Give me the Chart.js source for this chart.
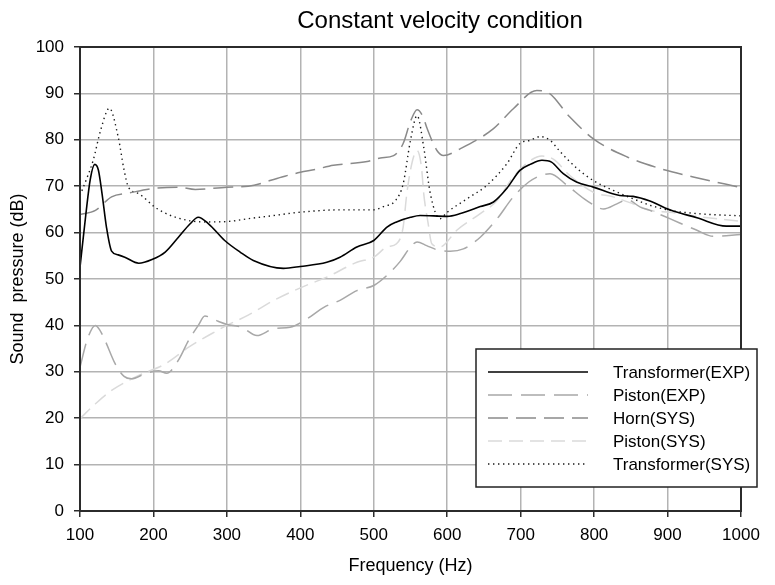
<!DOCTYPE html>
<html>
<head>
<meta charset="utf-8">
<script src="https://cdn.jsdelivr.net/npm/chart.js@4/dist/chart.umd.min.js"></script>
<style>
  html, body { margin: 0; padding: 0; background: #ffffff; }
  #wrap { width: 775px; height: 585px; }
</style>
</head>
<body>
<div id="wrap"><canvas id="c" width="775" height="585"></canvas></div>
<script>
// Frequency response data (Hz, dB)
const transformerExpHz = [100,108,114,120,125,130,136,143,152,161,180,198,216,234,250,261,275,297,318,336,377,400,436,454,477,500,518,531,550,563,600,618,645,663,681,699,713,729,742,758,776,799,835,853,876,903,940,980,1000];
const transformerExpDb = [52.5,64,71.5,74.7,73.5,68.4,61.2,56,55.2,54.7,53.4,54.2,55.8,59,61.9,63.3,61.9,58.3,55.8,54,52.3,52.7,53.6,54.7,56.9,58.3,61.2,62.3,63.3,63.7,63.5,64.1,65.6,66.6,69.5,73.4,74.7,75.6,75.2,72.7,70.9,69.8,68,67.8,66.8,64.9,63.2,61.4,61.4];

const pistonExpHz = [100,110,121,127,134,148,160,170,189,207,218,234,248,261,270,288,300,320,341,364,386,409,432,454,477,500,518,536,550,559,572,586,604,622,645,668,690,711,727,740,763,790,813,831,845,863,876,903,940,962,1000];
const pistonExpDb = [31,37,40,39,36.8,31.7,29,28.5,29.6,30.2,29.7,32.5,36.8,40,42,40.9,40.2,39.6,37.8,39.3,39.6,41.4,43.9,45.4,47.5,48.6,50.8,53.8,56.9,58,57.2,56.3,56,56.5,59,63,67.7,70.9,72.3,72.7,70.2,66.9,65.1,66.2,67.1,65.5,64.8,63,60.5,59.2,59.6];

const hornSysHz = [100,121,143,166,199,234,257,300,329,375,400,420,445,491,509,527,540,550,559,567,572,586,595,618,663,690,722,736,767,799,845,890,935,1000];
const hornSysDb = [63.9,64.8,67.7,68.5,69.5,69.8,69.3,69.8,70,72,73,73.6,74.5,75.3,76.1,76.6,79.2,84,86.5,85,82.7,77.7,76.6,78.1,82.4,86.7,90.6,90.3,84.9,80.2,76.3,73.8,72,69.7];

const pistonSysHz = [100,121,143,180,216,248,279,300,329,364,400,436,477,500,518,531,540,545,552,559,565,568,574,579,590,613,645,668,690,713,729,745,767,799,826,853,876,903,940,1000];
const pistonSysDb = [19.9,23.1,26,29.2,31.7,35.3,38.2,40,42.2,45.4,48.1,50.4,53.6,54.7,56.9,57.6,61.2,68.4,75,77.7,74,68.4,62,57.6,56.9,60.5,64.1,66.9,72,75.5,76.5,75.8,72.3,68.7,67.7,66.2,64.8,64.4,63.5,62.4];

const transformerSysHz = [100,110,118,128,140,152,160,166,180,202,220,248,270,302,329,360,400,454,500,513,530,540,550,559,568,577,590,600,627,654,681,699,713,727,740,754,777,799,826,853,876,903,940,1000];
const transformerSysDb = [68,72,75.6,82,86.8,80.6,73.5,69.8,68.4,65.5,63.9,62.6,62.3,62.4,63,63.6,64.4,64.9,64.9,65.6,67,70.5,79.9,85.2,78.4,68.4,63,64.4,67.3,70.2,74.8,79.2,79.9,80.7,79.9,77.4,73.8,71.2,69.1,67.3,65.9,64.8,64.1,63.6];

const xTicks = [100,200,300,400,500,600,700,800,900,1000];
const yTicks = [0,10,20,30,40,50,60,70,80,90,100];

const chartTitle = 'Constant velocity condition';
const FONT = '"Liberation Sans", Arial, Helvetica, sans-serif';

function pts(xs, ys) { return xs.map((x, i) => ({ x: x, y: ys[i] })); }

const series = [
  { label: 'Transformer(EXP)', data: pts(transformerExpHz, transformerExpDb), borderColor: '#000000', borderWidth: 1.6, borderDash: [] },
  { label: 'Piston(EXP)', data: pts(pistonExpHz, pistonExpDb), borderColor: '#a8a8a8', borderWidth: 1.5, borderDash: [24, 9] },
  { label: 'Horn(SYS)', data: pts(hornSysHz, hornSysDb), borderColor: '#8a8a8a', borderWidth: 1.5, borderDash: [20, 8] },
  { label: 'Piston(SYS)', data: pts(pistonSysHz, pistonSysDb), borderColor: '#dadada', borderWidth: 1.5, borderDash: [14, 7] },
  { label: 'Transformer(SYS)', data: pts(transformerSysHz, transformerSysDb), borderColor: '#1a1a1a', borderWidth: 1.4, borderDash: [1.4, 3.6] }
];

// Title, frame around the plot area and the boxed legend in the lower right
const framePlugin = {
  id: 'frameAndLegend',
  afterDatasetsDraw(chart) {
    const { ctx, chartArea: a } = chart;
    ctx.save();
    ctx.strokeStyle = '#2b2b2b';
    ctx.lineWidth = 2;
    ctx.strokeRect(a.left, a.top, a.right - a.left, a.bottom - a.top);

    ctx.fillStyle = '#000000';
    ctx.font = '24px ' + FONT;
    ctx.textAlign = 'center';
    ctx.textBaseline = 'middle';
    ctx.fillText(chartTitle, 440, 21);

    // legend box
    const bx = 476, by = 349, bw = 281, bh = 138;
    ctx.fillStyle = '#ffffff';
    ctx.fillRect(bx, by, bw, bh);
    ctx.strokeStyle = '#222222';
    ctx.lineWidth = 1.5;
    ctx.strokeRect(bx, by, bw, bh);

    const rowY = [372, 395, 418, 441, 464];
    ctx.font = '17px ' + FONT;
    ctx.textBaseline = 'middle';
    ctx.textAlign = 'left';
    chart.data.datasets.forEach((ds, i) => {
      const y = rowY[i];
      ctx.beginPath();
      ctx.setLineDash(ds.borderDash || []);
      ctx.strokeStyle = ds.borderColor;
      ctx.lineWidth = ds.borderWidth;
      ctx.moveTo(488, y);
      ctx.lineTo(588, y);
      ctx.stroke();
      ctx.setLineDash([]);
      ctx.fillStyle = '#000000';
      ctx.fillText(ds.label, 613, y + 1);
    });
    ctx.restore();
  }
};

new Chart(document.getElementById('c'), {
  type: 'line',
  data: {
    datasets: series.map(s => Object.assign({
      fill: false,
      pointRadius: 0,
      pointHoverRadius: 0,
      cubicInterpolationMode: 'monotone',
      spanGaps: true
    }, s))
  },
  options: {
    responsive: false,
    animation: false,
    events: [],
    layout: { padding: { left: 0, right: 34, top: 47, bottom: 0 } },
    plugins: {
      legend: { display: false },
      tooltip: { enabled: false },
      title: { display: false }
    },
    scales: {
      x: {
        type: 'linear',
        min: 100,
        max: 1000,
        afterBuildTicks(scale) { scale.ticks = xTicks.map(v => ({ value: v })); },
        afterFit(scale) { scale.height = 74; },
        ticks: { color: '#000000', font: { family: FONT, size: 17 }, padding: 8, maxRotation: 0, callback: v => String(v) },
        grid: { color: '#b3b3b3', lineWidth: 1.5, tickColor: '#2b2b2b', tickLength: 6, drawTicks: true },
        border: { display: true, color: '#2b2b2b', width: 2 },
        title: {
          display: true,
          text: 'Frequency (Hz)',
          color: '#000000',
          font: { family: FONT, size: 18 },
          padding: { top: 0, bottom: 8 }
        }
      },
      y: {
        type: 'linear',
        min: 0,
        max: 100,
        afterBuildTicks(scale) { scale.ticks = yTicks.map(v => ({ value: v })); },
        afterFit(scale) { scale.width = 80; },
        ticks: { color: '#000000', font: { family: FONT, size: 17 }, padding: 10, callback: v => String(v) },
        grid: { color: '#b3b3b3', lineWidth: 1.5, tickColor: '#2b2b2b', tickLength: 6, drawTicks: true },
        border: { display: true, color: '#2b2b2b', width: 2 },
        title: {
          display: true,
          text: 'Sound  pressure (dB)',
          color: '#000000',
          font: { family: FONT, size: 18 },
          padding: { top: 7, bottom: 0 }
        }
      }
    }
  },
  plugins: [framePlugin]
});
</script>
</body>
</html>
